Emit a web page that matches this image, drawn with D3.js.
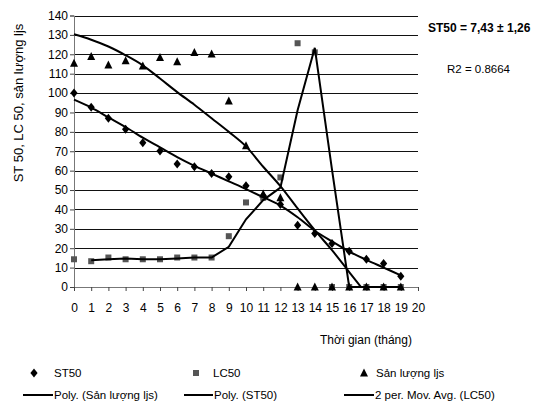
<!DOCTYPE html>
<html>
<head>
<meta charset="utf-8">
<script src="https://cdn.jsdelivr.net/npm/d3@7"></script>
<style>
  body { margin: 0; background: #fff; }
  text { font-family: "Liberation Sans", Arial, sans-serif; fill: #000; }
</style>
</head>
<body>
<div id="chart"></div>
<script>
// values
const months = [0, 1, 2, 3, 4, 5, 6, 7, 8, 9, 10, 11, 12, 13, 14, 15, 16, 17, 18, 19];
const st50 = [100, 92.7, 87, 81.3, 74.4, 70.1, 63.4, 62, 58.5, 56.8, 52.2, 47, 42.5, 31.9, 27.6, 22.4, 18.4, 14.3, 12.1, 5.5];
const lc50 = [14.3, 13.3, 15.2, 14.3, 14.3, 14.3, 15.2, 15.2, 15.2, 26.2, 43.6, 46, 56.5, 125.7, 121, 0, 0, 0, 0, 0];
const sanLuong = [115.4, 118.8, 114.5, 116.7, 114, 118.3, 116.2, 120.9, 120.2, 95.9, 72.8, 48, 46, 0, 0, 0, 0, 0, 0, 0];

// trendlines
const polyMonths = [0, 1, 2, 3, 4, 5, 6, 7, 8, 9, 10, 11, 12, 13, 14, 15, 16, 17];
const polySanLuong = [130.3, 127.5, 124, 119.5, 114.3, 107.5, 100.5, 94, 87, 80, 72.5, 62, 52, 40.5, 29.3, 19, 7.7, -3.6];
const polyST50 = [96.6, 92.5, 87.5, 82.5, 77, 72, 67, 62.5, 58.5, 54.5, 50.5, 46.3, 42, 36, 29, 23.5, 18.3, 14, 10, 6];

const yTicks = [0, 10, 20, 30, 40, 50, 60, 70, 80, 90, 100, 110, 120, 130, 140];
const xTicks = [0, 1, 2, 3, 4, 5, 6, 7, 8, 9, 10, 11, 12, 13, 14, 15, 16, 17, 18, 19, 20];

const WIDTH = 534;
const HEIGHT = 405;

const svg = d3.select("#chart")
    .append("svg")
    .attr("width", WIDTH)
    .attr("height", HEIGHT);

const x = d3.scaleLinear().domain([0, 20]).range([74, 418]);
const y = d3.scaleLinear().domain([0, 140]).range([287, 15.5]);

svg.append("clipPath")
    .attr("id", "plot")
    .append("rect")
    .attr("x", x(0) - 10)
    .attr("y", y(140))
    .attr("width", x(20) - x(0) + 10)
    .attr("height", y(0) - y(140));

// gridlines
svg.append("g")
    .selectAll("line")
    .data(yTicks.filter(d => d > 0))
    .enter()
    .append("line")
    .attr("x1", x(0))
    .attr("x2", x(20))
    .attr("y1", d => Math.round(y(d)) + 0.5)
    .attr("y2", d => Math.round(y(d)) + 0.5)
    .attr("stroke", "#111")
    .attr("stroke-width", 1);

// axes
const yAxis = d3.axisLeft(y)
    .tickValues(yTicks)
    .tickSize(4)
    .tickPadding(2)
    .tickFormat(d3.format("d"));

const xAxis = d3.axisBottom(x)
    .tickValues(xTicks)
    .tickSize(4)
    .tickPadding(12)
    .tickFormat(d3.format("d"));

const gy = svg.append("g")
    .attr("transform", `translate(${x(0)},0)`)
    .call(yAxis);

const gx = svg.append("g")
    .attr("transform", `translate(0,${y(0)})`)
    .call(xAxis);

[gx, gy].forEach(g => {
    g.select(".domain").attr("stroke", "#777");
    g.selectAll(".tick line").attr("stroke", "#444");
    g.selectAll("text")
        .attr("font-size", 12)
        .attr("font-family", "Liberation Sans, Arial, sans-serif")
        .attr("fill", "#000");
});

// axis titles
svg.append("text")
    .attr("transform", "translate(23,103) rotate(-90)")
    .attr("text-anchor", "middle")
    .attr("font-size", 13)
    .text("ST 50, LC 50, sản lượng ljs");

svg.append("text")
    .attr("x", 366)
    .attr("y", 344)
    .attr("text-anchor", "middle")
    .attr("font-size", 12)
    .text("Thời gian (tháng)");

// markers
const diamond = "M0,-4.5L3.6,0L0,4.5L-3.6,0Z";
const square = "M-3,-3H3V3H-3Z";
const triangle = "M0,-4.5L4,3.5H-4Z";

const drawMarkers = (values, path, color) => {
    svg.append("g")
        .selectAll("path")
        .data(values)
        .enter()
        .append("path")
        .attr("d", path)
        .attr("fill", color)
        .attr("transform", (d, i) => `translate(${x(months[i])},${y(d)})`);
};

drawMarkers(st50, diamond, "#000");
drawMarkers(lc50, square, "#555");
drawMarkers(sanLuong, triangle, "#000");

// trendlines
const line = d3.line()
    .x(d => x(d[0]))
    .y(d => y(d[1]));

// 2 period moving average of LC50
const movAvg = lc50.map((d, i) => i === 0 ? null : [months[i], (lc50[i - 1] + d) / 2]).filter(d => d);

svg.append("path")
    .attr("clip-path", "url(#plot)")
    .attr("d", line.curve(d3.curveMonotoneX)(polySanLuong.map((d, i) => [polyMonths[i], d])))
    .attr("fill", "none")
    .attr("stroke", "#000")
    .attr("stroke-width", 2);

svg.append("path")
    .attr("d", line.curve(d3.curveMonotoneX)(polyST50.map((d, i) => [months[i], d])))
    .attr("fill", "none")
    .attr("stroke", "#000")
    .attr("stroke-width", 2);

svg.append("path")
    .attr("d", line.curve(d3.curveLinear)(movAvg))
    .attr("fill", "none")
    .attr("stroke", "#000")
    .attr("stroke-width", 2)
    .attr("stroke-linejoin", "miter");

// annotations
svg.append("text")
    .attr("x", 428)
    .attr("y", 32)
    .attr("font-size", 12)
    .attr("font-weight", "bold")
    .text("ST50 = 7,43 ± 1,26");

svg.append("text")
    .attr("x", 447)
    .attr("y", 73)
    .attr("font-size", 11.5)
    .text("R2 = 0.8664");

// legend
const legendMarkers = [
    { path: diamond, color: "#000", x: 34, label: "ST50", tx: 54 },
    { path: square, color: "#555", x: 196, label: "LC50", tx: 213 },
    { path: triangle, color: "#000", x: 364, label: "Sản lượng ljs", tx: 376 }
];
const legendLines = [
    { x1: 23, x2: 53, label: "Poly. (Sản lượng ljs)" },
    { x1: 184, x2: 213, label: "Poly. (ST50)" },
    { x1: 344, x2: 374, label: "2 per. Mov. Avg. (LC50)" }
];

const legend = svg.append("g").attr("font-size", 11.5);

legendMarkers.forEach(d => {
    legend.append("path")
        .attr("d", d.path)
        .attr("fill", d.color)
        .attr("transform", `translate(${d.x},373)`);
    legend.append("text")
        .attr("x", d.tx)
        .attr("y", 377)
        .text(d.label);
});

legendLines.forEach(d => {
    legend.append("line")
        .attr("x1", d.x1)
        .attr("x2", d.x2)
        .attr("y1", 395)
        .attr("y2", 395)
        .attr("stroke", "#000")
        .attr("stroke-width", 2);
    legend.append("text")
        .attr("x", d.x2 + 1)
        .attr("y", 399)
        .text(d.label);
});
</script>
</body>
</html>
